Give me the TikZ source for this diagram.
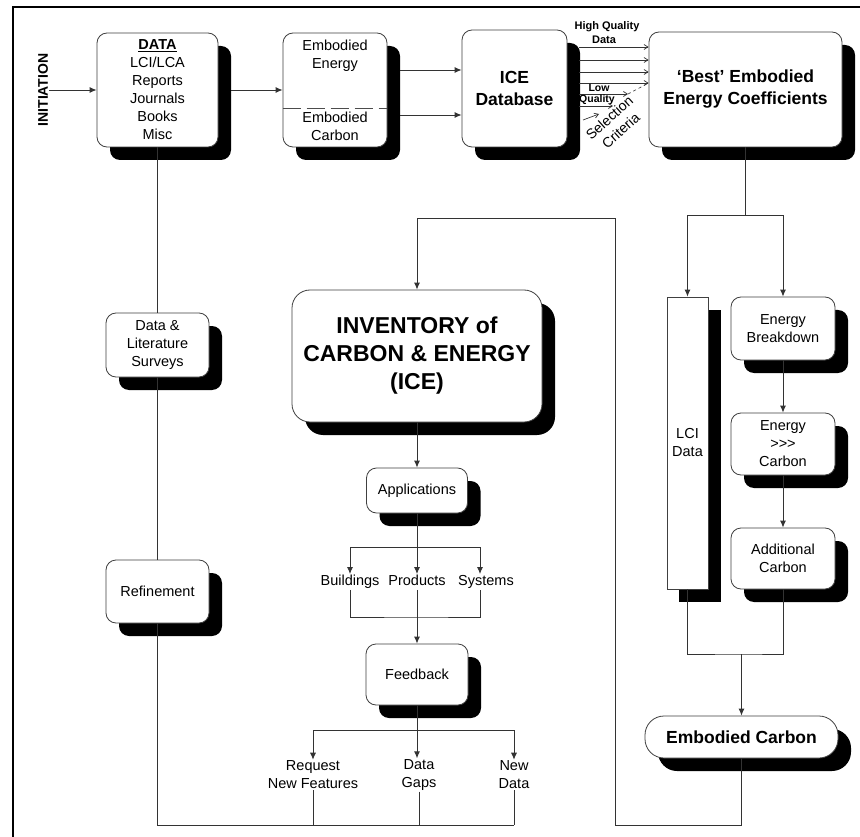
\documentclass[tikz,border=0pt]{standalone}
\usepackage{fontspec}
\setmainfont{Liberation Sans}
\usetikzlibrary{shadows,arrows.meta,calc}
\begin{document}
\begin{tikzpicture}[x=1pt,y=-1pt,
  ln/.style={draw=black!80, line width=0.9pt},
  arr/.style={ln, -{Latex[length=7pt,width=6pt]}},
  thinarr/.style={ln, line width=0.7pt, -{Straight Barb[length=4pt,width=5pt]}},
  shad/.style={drop shadow={shadow xshift=13pt, shadow yshift=-13pt, opacity=1, fill=black}},
  sbox/.style={draw=black!75, line width=0.8pt, fill=white, rounded corners=10pt, align=center, inner sep=2pt, font=\fontsize{14.5}{18}\selectfont, shad},
  bigtxt/.style={font=\fontsize{17.5}{22}\selectfont\bfseries},
  lbl/.style={align=center, inner sep=1pt, font=\fontsize{14.5}{18}\selectfont},
  one/.style={text height=10.5pt, text depth=3pt},
  small/.style={inner sep=0.5pt, font=\fontsize{10.5}{12}\selectfont\bfseries}
]
\useasboundingbox (0,0) rectangle (860,837);
\fill[white] (0,0) rectangle (860,837);

% frame
\draw[line width=2pt] (13,837) -- (13,7) -- (860,7);

% top row
\node[rotate=90, inner sep=1pt, font=\fontsize{14}{16}\selectfont\bfseries] (init) at (43,90) {INITIATION};
\node[sbox, minimum width=121pt, minimum height=114pt] (data) at (157.5,90)
  {\underline{\textbf{DATA}}\\LCI/LCA\\Reports\\Journals\\Books\\Misc};
\node[sbox, minimum width=104pt, minimum height=114pt] (emb) at (335,90) {};
\node[lbl] (ee) at (335,56) {Embodied\\Energy};
\node[lbl] (ecb) at (335,126) {Embodied\\Carbon};
\draw[draw=black!70, line width=0.9pt, dash pattern=on 18pt off 6pt] (emb.west |- 0,108) -- (emb.east |- 0,108);
\node[sbox, bigtxt, minimum width=105pt, minimum height=117pt] (ice) at (514.5,88.5) {ICE\\Database};
\node[sbox, bigtxt, minimum width=193pt, minimum height=115pt] (best) at (745.5,89.5) {‘Best’ Embodied\\Energy Coefficients};

% left column
\node[sbox, minimum width=103pt, minimum height=64pt] (lit) at (157.5,345) {Data \&\\Literature\\Surveys};
\node[sbox, minimum width=103pt, minimum height=63pt] (refine) at (157.5,591.5) {Refinement};

% centre column
\node[sbox, rounded corners=18pt, minimum width=250pt, minimum height=132pt, font=\fontsize{23}{28}\selectfont\bfseries] (inv) at (417,356) {INVENTORY of\\CARBON \& ENERGY\\(ICE)};
\node[sbox, minimum width=101pt, minimum height=45pt] (app) at (417,490.5) {Applications};
\node[lbl, one] (buildings) at (350,582) {Buildings};
\node[lbl, one] (products) at (417,582) {Products};
\node[lbl, one] (systems) at (486,582) {Systems};
\node[sbox, minimum width=102pt, minimum height=61pt] (feedback) at (417,674.5) {Feedback};
\node[lbl] (request) at (313,775) {Request\\New Features};
\node[lbl] (gaps) at (419,775) {Data\\Gaps};
\node[lbl] (newdata) at (514,775) {New\\Data};

% right column
\node[sbox, rounded corners=0pt, minimum width=41pt, minimum height=292pt, drop shadow={shadow xshift=12pt, shadow yshift=-13pt, opacity=1, fill=black}] (lci) at (687.5,443) {LCI\\Data};
\node[sbox, minimum width=104pt, minimum height=63pt] (eb) at (783,328.5) {Energy\\Breakdown};
\node[sbox, minimum width=104pt, minimum height=62pt] (ec) at (783,444) {Energy\\>{}>{}>\\Carbon};
\node[sbox, minimum width=104pt, minimum height=61pt] (ac) at (783,558.5) {Additional\\Carbon};
\node[sbox, bigtxt, rounded corners=19pt, minimum width=193pt, minimum height=42pt] (embc) at (741.5,737) {Embodied Carbon};

% connectors top row
\draw[arr] (init.south) -- (data.west);
\coordinate (dataR) at ([xshift=13pt]data.east);
\draw[arr] (dataR) -- (emb.west);
\coordinate (embR) at ([xshift=13pt]emb.east);
\draw[arr] (embR |- 0,70) -- (ice.west |- 0,70);
\draw[arr] (embR |- 0,115) -- (ice.west |- 0,115);

% ICE -> Best selection arrows
\coordinate (iceR) at ([xshift=12pt]ice.east);
\foreach \yy in {47,60,72,83} {
  \draw[thinarr] (iceR |- 0,\yy) -- (best.west |- 0,\yy);
}
\coordinate (lq1) at (628,94);
\coordinate (lq2) at (613,106);
\coordinate (lq3) at (599,114);
\draw[thinarr] (iceR |- lq1) -- (lq1);
\draw[ln, line width=0.6pt, dashed] (lq1) -- (best.west |- 0,83);
\draw[thinarr] (iceR |- lq2) -- (lq2);
\draw[thinarr] (583,120) -- (lq3);
\node[small, font=\fontsize{11}{12}\selectfont\bfseries] (hq) at (607,27) {High Quality};
\node[small, font=\fontsize{11}{12}\selectfont\bfseries] (hqd) at (604,40) {Data};
\node[small] (low) at (599,88) {Low};
\node[small] (qual) at (597,100) {Quality};
\node[lbl, inner sep=0pt, rotate=42, font=\fontsize{14}{17}\selectfont] (sel) at (615,124) {Selection\\Criteria};

% Best -> right column
\coordinate (sp) at (best.south |- 0,215);
\draw[ln] (best.south) -- (sp);
\draw[arr] (sp) -| (lci.north);
\draw[arr] (sp) -| (eb.north);
\draw[arr] (eb) -- (ec);
\draw[arr] (ec) -- (ac);
\coordinate (mg) at (embc.north |- 0,654);
\draw[ln] (lci.south) |- (mg) -| (ac.south);
\draw[arr] (mg) -- (embc.north);

% loop back to inventory
\coordinate (lb) at (615,825);
\coordinate (lt) at (615,218);
\draw[arr] (embc.south) |- (lb) -- (lt) -| (inv.north);

% centre flow
\draw[arr] (inv) -- (app);
\coordinate (ab) at (app.south |- 0,547);
\draw[arr] (app.south) -- (products.north);
\draw[arr] (ab) -| (buildings.north);
\draw[arr] ([xshift=-6pt]systems.north |- ab) -- ([xshift=-6pt]systems.north);
\draw[ln] (buildings.north |- ab) -- ([xshift=-6pt]systems.north |- ab);
\coordinate (bb) at (products.south |- 0,617);
\draw[ln] (buildings.south) |- (bb) -- ([xshift=-6pt]systems.south |- bb) -- ([xshift=-6pt]systems.south);
\draw[arr] (products.south) -- (feedback.north);
\coordinate (fb) at (feedback.south |- 0,730);
\draw[arr] (feedback.south) -- (feedback.south |- gaps.north);
\draw[arr] (fb) -| (request.north);
\draw[arr] (fb) -| (newdata.north);

% left column and bottom
\draw[ln] (data.south) -- (lit.north);
\draw[ln] (lit.south) -- (refine.north);
\coordinate (bl) at (refine.south |- 0,825);
\draw[ln] (refine.south) -- (bl) -- (newdata.south |- bl);
\draw[ln] (request.south) -- (request.south |- bl);
\draw[ln] (gaps.south) -- (gaps.south |- bl);
\draw[ln] (newdata.south) -- (newdata.south |- bl);
\end{tikzpicture}
\end{document}
